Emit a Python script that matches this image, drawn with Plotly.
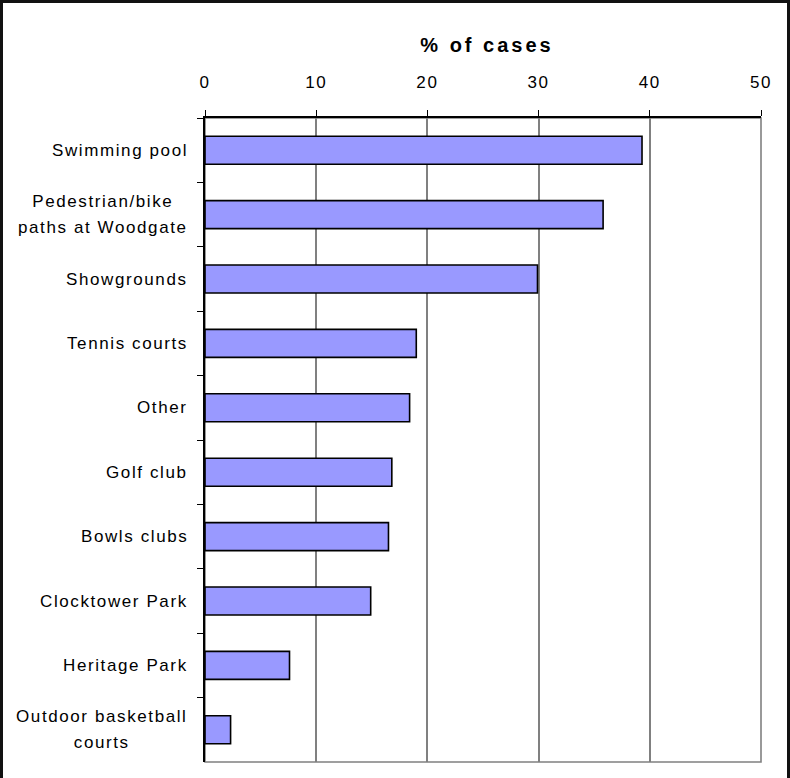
import plotly.graph_objects as go

# Facilities used, share of cases (%)
categories = [
    "Swimming pool",
    "Pedestrian/bike paths at Woodgate",
    "Showgrounds",
    "Tennis courts",
    "Other",
    "Golf club",
    "Bowls clubs",
    "Clocktower Park",
    "Heritage Park",
    "Outdoor basketball courts",
]
label_lines = [
    ["Swimming pool"],
    ["Pedestrian/bike", "paths at Woodgate"],
    ["Showgrounds"],
    ["Tennis courts"],
    ["Other"],
    ["Golf club"],
    ["Bowls clubs"],
    ["Clocktower Park"],
    ["Heritage Park"],
    ["Outdoor basketball", "courts"],
]
percent_of_cases = [39.3, 35.8, 29.9, 19.0, 18.4, 16.8, 16.5, 14.9, 7.6, 2.3]
x_ticks = [0, 10, 20, 30, 40, 50]
axis_title = "% of cases"

W, H = 790, 778
L, R, T, B = 205, 29, 118, 16
PW, PH = W - L - R, H - T - B

FONT = "Liberation Sans, Arial, sans-serif"
FS = 17          # glyph size for labels
LS = 1.6         # letter spacing, px
LINE_FS = 20     # sets the line pitch of two-line labels (1.3 x size)


def spaced(lines, ls=LS, size=None):
    size_css = f"font-size:{size}px;" if size else ""
    return "<br>".join(
        f'<span style="{size_css}letter-spacing:{ls}px">{ln}</span>' for ln in lines
    )


def px_x(p):
    return (p - L) / PW


def px_y(p):
    return (H - B - p) / PH


fig = go.Figure(
    go.Bar(
        x=percent_of_cases,
        y=categories,
        orientation="h",
        marker=dict(color="#9999FF", line=dict(color="#000000", width=1.6)),
        width=0.435,
        hoverinfo="x+y",
    )
)

# category labels: right-aligned block, lines centred within it
for cat, lines in zip(categories, label_lines):
    fig.add_annotation(
        x=0, xref="paper", y=cat, yref="y",
        xanchor="right", yanchor="middle", xshift=-16,
        text=spaced(lines, size=FS), align="center", showarrow=False,
        borderpad=0, font=dict(family=FONT, size=LINE_FS, color="#000000"),
    )

fig.update_layout(
    width=W, height=H,
    margin=dict(l=L, r=R, t=T, b=B, pad=0),
    paper_bgcolor="#FFFFFF", plot_bgcolor="#FFFFFF",
    showlegend=False,
    font=dict(family=FONT, size=FS, color="#000000"),
    title=dict(
        text=spaced([axis_title], 3),
        x=(L + PW / 2 + 4) / W, xanchor="center", xref="container",
        y=1 - 45 / H, yanchor="middle", yref="container",
        font=dict(family=FONT, size=20, color="#000000", weight="bold"),
    ),
    xaxis=dict(
        side="top", range=[0, 50],
        tickvals=x_ticks, ticktext=[spaced([str(v)]) for v in x_ticks],
        ticks="outside", ticklen=6, tickwidth=1.3, tickcolor="#000000",
        ticklabelstandoff=15,
        showline=True, linecolor="#000000", linewidth=1.6,
        showgrid=True, gridcolor="#808080", gridwidth=1.5,
        zeroline=False, fixedrange=True,
    ),
    yaxis=dict(
        categoryorder="array", categoryarray=categories,
        autorange="reversed",
        showticklabels=False, tickson="boundaries",
        ticks="outside", ticklen=6, tickwidth=1.3, tickcolor="#000000",
        showline=True, linecolor="#000000", linewidth=1.6,
        showgrid=False, zeroline=False, fixedrange=True,
    ),
    shapes=[
        # plot area frame (grey right and bottom edges)
        dict(type="rect", xref="paper", yref="paper", x0=0, x1=1, y0=0, y1=1,
             line=dict(color="#808080", width=1.6), layer="below"),
        # outer chart frame
        dict(type="rect", xref="paper", yref="paper",
             x0=px_x(1.5), x1=px_x(788.5), y0=px_y(781), y1=px_y(1.5),
             line=dict(color="#111111", width=3), layer="above"),
    ],
)

fig.write_html("out.html")
